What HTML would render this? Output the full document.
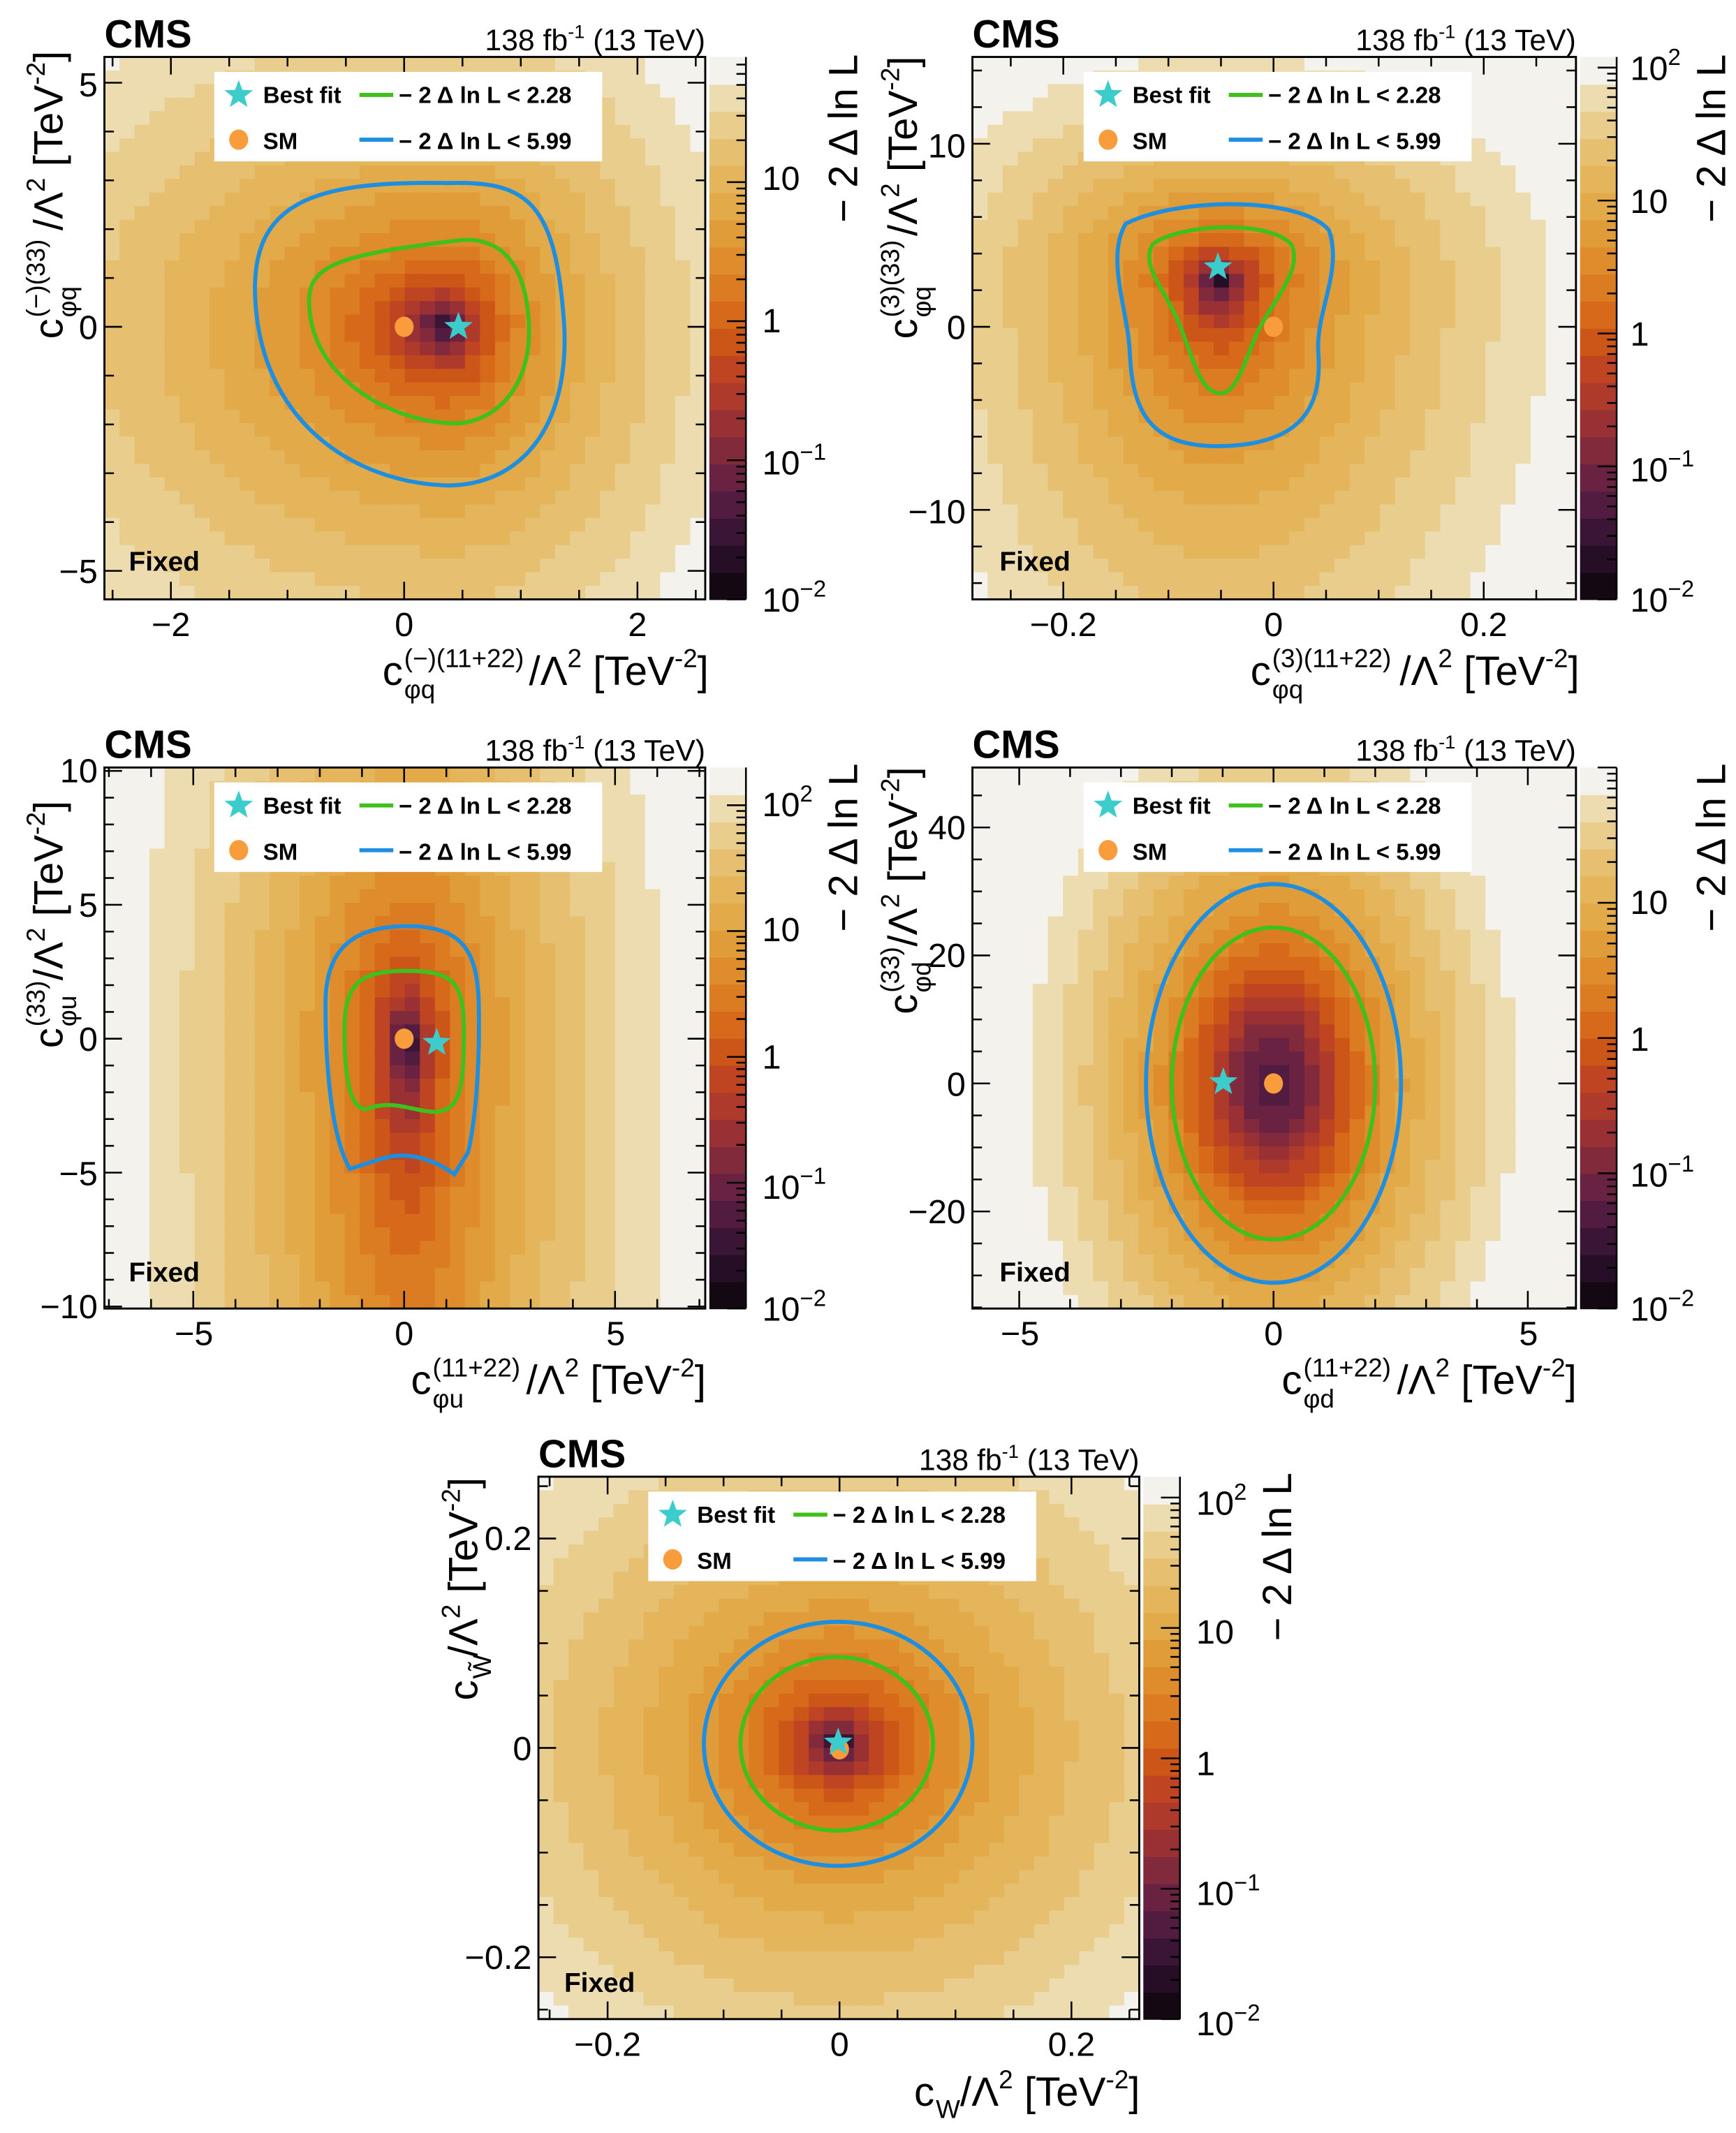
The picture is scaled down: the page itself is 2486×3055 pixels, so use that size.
<!DOCTYPE html>
<html><head><meta charset="utf-8">
<style>
html,body{margin:0;padding:0;background:#fff;}
svg{display:block;}
text{font-family:"Liberation Sans",Arial,sans-serif;fill:#000;}
.b{font-weight:bold;}
.tk{font-size:25px;}
.ax{font-size:30px;}
.lg{font-size:17px;font-weight:bold;}
</style></head>
<body>
<svg id="s" width="2486" height="3055" viewBox="0 0 1280 1573" preserveAspectRatio="none" xmlns="http://www.w3.org/2000/svg">
<defs>
<clipPath id="c0"><rect x="77" y="42" width="443" height="400"/></clipPath>
<clipPath id="c1"><rect x="717" y="42" width="445" height="400"/></clipPath>
<clipPath id="c2"><rect x="77" y="566" width="443" height="399"/></clipPath>
<clipPath id="c3"><rect x="717" y="566" width="445" height="399"/></clipPath>
<clipPath id="c4"><rect x="397" y="1089" width="443" height="400"/></clipPath>
</defs>
<g id="heat"></g>
<g id="ticks" stroke="#000" stroke-width="1.3" fill="none"></g>

<g fill="none" stroke-width="3">
<path stroke="#1e8fe0" d="M330,135 C390,133 410,150 416,240 C420,320 380,358 330,358 C260,356 190,310 188,215 C187,150 230,133 330,135 Z"/>
<path stroke="#3fc01c" d="M228,225 C226,195 250,188 340,177 C370,175 388,195 390,240 C392,290 360,315 330,312 C290,310 230,280 228,225 Z"/>
<path stroke="#1e8fe0" d="M830,165 C870,145 960,145 980,170 C990,200 970,230 972,260 C975,300 960,328 900,329 C845,330 835,300 833,260 C832,230 815,190 830,165 Z"/>
<path stroke="#3fc01c" d="M850,180 C870,165 935,162 952,180 C962,200 935,225 925,250 C915,275 910,290 900,290 C885,290 880,265 870,240 C860,215 840,195 850,180 Z"/>
<path stroke="#1e8fe0" d="M300,683 C340,683 352,700 353,740 C354,790 350,830 345,850 L335,866 C320,855 300,848 280,855 L258,862 C245,840 240,790 240,740 C240,700 260,683 300,683 Z"/>
<path stroke="#3fc01c" d="M300,716 C335,716 342,725 342,760 C342,800 340,818 322,820 C305,820 290,810 270,818 C258,818 254,795 254,760 C254,725 265,716 300,716 Z"/>
<ellipse stroke="#1e8fe0" cx="939" cy="799" rx="94" ry="147"/>
<ellipse stroke="#3fc01c" cx="939" cy="799" rx="75" ry="115"/>
<ellipse stroke="#1e8fe0" cx="618" cy="1286" rx="99" ry="90"/>
<ellipse stroke="#3fc01c" cx="617" cy="1286" rx="71" ry="64"/>
</g>
<g id="marks"></g>
<g id="legends"></g>

<g fill="none" stroke="#000" stroke-width="1.5">
<rect x="77" y="42" width="443" height="400"/>
<rect x="717" y="42" width="445" height="400"/>
<rect x="77" y="566" width="443" height="399"/>
<rect x="717" y="566" width="445" height="399"/>
<rect x="397" y="1089" width="443" height="400"/>
</g>

<text x="77" y="35" class="b" font-size="29">CMS</text>
<text x="520" y="37" font-size="22" text-anchor="end">138 fb<tspan dy="-9" font-size="14">-1</tspan><tspan dy="9"> (13 TeV)</tspan></text>
<text x="717" y="35" class="b" font-size="29">CMS</text>
<text x="1162" y="37" font-size="22" text-anchor="end">138 fb<tspan dy="-9" font-size="14">-1</tspan><tspan dy="9"> (13 TeV)</tspan></text>
<text x="77" y="559" class="b" font-size="29">CMS</text>
<text x="520" y="561" font-size="22" text-anchor="end">138 fb<tspan dy="-9" font-size="14">-1</tspan><tspan dy="9"> (13 TeV)</tspan></text>
<text x="717" y="559" class="b" font-size="29">CMS</text>
<text x="1162" y="561" font-size="22" text-anchor="end">138 fb<tspan dy="-9" font-size="14">-1</tspan><tspan dy="9"> (13 TeV)</tspan></text>
<text x="397" y="1082" class="b" font-size="29">CMS</text>
<text x="840" y="1084" font-size="22" text-anchor="end">138 fb<tspan dy="-9" font-size="14">-1</tspan><tspan dy="9"> (13 TeV)</tspan></text>

<text x="95" y="421" class="b" font-size="20">Fixed</text>
<text x="737" y="421" class="b" font-size="20">Fixed</text>
<text x="95" y="945" class="b" font-size="20">Fixed</text>
<text x="737" y="945" class="b" font-size="20">Fixed</text>
<text x="416" y="1469" class="b" font-size="20">Fixed</text>

<g class="tk">
<text x="126" y="469" text-anchor="middle">−2</text>
<text x="298" y="469" text-anchor="middle">0</text>
<text x="470" y="469" text-anchor="middle">2</text>
<text x="72" y="71" text-anchor="end">5</text>
<text x="72" y="250" text-anchor="end">0</text>
<text x="72" y="430" text-anchor="end">−5</text>
<text x="784" y="469" text-anchor="middle">−0.2</text>
<text x="939" y="469" text-anchor="middle">0</text>
<text x="1094" y="469" text-anchor="middle">0.2</text>
<text x="712" y="116" text-anchor="end">10</text>
<text x="712" y="250" text-anchor="end">0</text>
<text x="712" y="386" text-anchor="end">−10</text>
<text x="143" y="992" text-anchor="middle">−5</text>
<text x="298" y="992" text-anchor="middle">0</text>
<text x="454" y="992" text-anchor="middle">5</text>
<text x="72" y="577" text-anchor="end">10</text>
<text x="72" y="676" text-anchor="end">5</text>
<text x="72" y="775" text-anchor="end">0</text>
<text x="72" y="874" text-anchor="end">−5</text>
<text x="72" y="972" text-anchor="end">−10</text>
<text x="752" y="992" text-anchor="middle">−5</text>
<text x="939" y="992" text-anchor="middle">0</text>
<text x="1127" y="992" text-anchor="middle">5</text>
<text x="712" y="619" text-anchor="end">40</text>
<text x="712" y="713" text-anchor="end">20</text>
<text x="712" y="808" text-anchor="end">0</text>
<text x="712" y="902" text-anchor="end">−20</text>
<text x="448" y="1516" text-anchor="middle">−0.2</text>
<text x="619" y="1516" text-anchor="middle">0</text>
<text x="790" y="1516" text-anchor="middle">0.2</text>
<text x="392" y="1143" text-anchor="end">0.2</text>
<text x="392" y="1298" text-anchor="end">0</text>
<text x="392" y="1452" text-anchor="end">−0.2</text>

<text x="562" y="140">10</text>
<text x="562" y="245">1</text>
<text x="562" y="350">10<tspan dy="-11" font-size="17">−1</tspan></text>
<text x="562" y="451">10<tspan dy="-11" font-size="17">−2</tspan></text>

<text x="1202" y="59">10<tspan dy="-11" font-size="17">2</tspan></text>
<text x="1202" y="157">10</text>
<text x="1202" y="255">1</text>
<text x="1202" y="355">10<tspan dy="-11" font-size="17">−1</tspan></text>
<text x="1202" y="451">10<tspan dy="-11" font-size="17">−2</tspan></text>

<text x="562" y="602">10<tspan dy="-11" font-size="17">2</tspan></text>
<text x="562" y="694">10</text>
<text x="562" y="788">1</text>
<text x="562" y="884">10<tspan dy="-11" font-size="17">−1</tspan></text>
<text x="562" y="974">10<tspan dy="-11" font-size="17">−2</tspan></text>

<text x="1202" y="674">10</text>
<text x="1202" y="775">1</text>
<text x="1202" y="875">10<tspan dy="-11" font-size="17">−1</tspan></text>
<text x="1202" y="974">10<tspan dy="-11" font-size="17">−2</tspan></text>

<text x="882" y="1117">10<tspan dy="-11" font-size="17">2</tspan></text>
<text x="882" y="1212">10</text>
<text x="882" y="1309">1</text>
<text x="882" y="1405">10<tspan dy="-11" font-size="17">−1</tspan></text>
<text x="882" y="1501">10<tspan dy="-11" font-size="17">−2</tspan></text>
</g>

<g class="ax">
<text transform="translate(632,40) rotate(-90)" text-anchor="end">− 2 Δ ln L</text>
<text transform="translate(1272,40) rotate(-90)" text-anchor="end">− 2 Δ ln L</text>
<text transform="translate(632,563) rotate(-90)" text-anchor="end">− 2 Δ ln L</text>
<text transform="translate(1272,563) rotate(-90)" text-anchor="end">− 2 Δ ln L</text>
<text transform="translate(952,1086) rotate(-90)" text-anchor="end">− 2 Δ ln L</text>
</g>

<g class="ax">
<text x="282" y="505">c</text>
<text x="298" y="492" font-size="19">(−)(11+22)</text>
<text x="298" y="515" font-size="19">φq</text>
<text x="390" y="505">/Λ<tspan dy="-13" font-size="19">2</tspan><tspan dy="13"> [TeV</tspan><tspan dy="-13" font-size="19">-2</tspan><tspan dy="13">]</tspan></text>

<text x="922" y="505">c</text>
<text x="938" y="492" font-size="19">(3)(11+22)</text>
<text x="938" y="515" font-size="19">φq</text>
<text x="1032" y="505">/Λ<tspan dy="-13" font-size="19">2</tspan><tspan dy="13"> [TeV</tspan><tspan dy="-13" font-size="19">-2</tspan><tspan dy="13">]</tspan></text>

<text x="303" y="1028">c</text>
<text x="319" y="1015" font-size="19">(11+22)</text>
<text x="319" y="1038" font-size="19">φu</text>
<text x="388" y="1028">/Λ<tspan dy="-13" font-size="19">2</tspan><tspan dy="13"> [TeV</tspan><tspan dy="-13" font-size="19">-2</tspan><tspan dy="13">]</tspan></text>

<text x="945" y="1028">c</text>
<text x="961" y="1015" font-size="19">(11+22)</text>
<text x="961" y="1038" font-size="19">φd</text>
<text x="1030" y="1028">/Λ<tspan dy="-13" font-size="19">2</tspan><tspan dy="13"> [TeV</tspan><tspan dy="-13" font-size="19">-2</tspan><tspan dy="13">]</tspan></text>

<text x="674" y="1553">c</text>
<text x="690" y="1562" font-size="19">W</text>
<text x="708" y="1553">/Λ<tspan dy="-13" font-size="19">2</tspan><tspan dy="13"> [TeV</tspan><tspan dy="-13" font-size="19">-2</tspan><tspan dy="13">]</tspan></text>
</g>

<g class="ax">
<g transform="translate(46,250) rotate(-90)">
<text x="0" y="0">c</text><text x="16" y="-13" font-size="19">(−)(33)</text><text x="16" y="10" font-size="19">φq</text>
<text x="80" y="0">/Λ<tspan dy="-13" font-size="19">2</tspan><tspan dy="13"> [TeV</tspan><tspan dy="-13" font-size="19">-2</tspan><tspan dy="13">]</tspan></text>
</g>
<g transform="translate(676,250) rotate(-90)">
<text x="0" y="0">c</text><text x="16" y="-13" font-size="19">(3)(33)</text><text x="16" y="10" font-size="19">φq</text>
<text x="76" y="0">/Λ<tspan dy="-13" font-size="19">2</tspan><tspan dy="13"> [TeV</tspan><tspan dy="-13" font-size="19">-2</tspan><tspan dy="13">]</tspan></text>
</g>
<g transform="translate(46,773) rotate(-90)">
<text x="0" y="0">c</text><text x="16" y="-13" font-size="19">(33)</text><text x="16" y="10" font-size="19">φu</text>
<text x="50" y="0">/Λ<tspan dy="-13" font-size="19">2</tspan><tspan dy="13"> [TeV</tspan><tspan dy="-13" font-size="19">-2</tspan><tspan dy="13">]</tspan></text>
</g>
<g transform="translate(676,748) rotate(-90)">
<text x="0" y="0">c</text><text x="16" y="-13" font-size="19">(33)</text><text x="16" y="10" font-size="19">φd</text>
<text x="50" y="0">/Λ<tspan dy="-13" font-size="19">2</tspan><tspan dy="13"> [TeV</tspan><tspan dy="-13" font-size="19">-2</tspan><tspan dy="13">]</tspan></text>
</g>
<g transform="translate(352,1254) rotate(-90)">
<text x="0" y="0">c</text><text x="16" y="10" font-size="19">W̃</text>
<text x="32" y="0">/Λ<tspan dy="-13" font-size="19">2</tspan><tspan dy="13"> [TeV</tspan><tspan dy="-13" font-size="19">-2</tspan><tspan dy="13">]</tspan></text>
</g>
</g>

<g class="lg">
<text x="194" y="76">Best fit</text><text x="294" y="76">− 2  Δ ln L &lt; 2.28</text>
<text x="194" y="110">SM</text><text x="294" y="110">− 2  Δ ln L &lt; 5.99</text>
<text x="835" y="76">Best fit</text><text x="935" y="76">− 2  Δ ln L &lt; 2.28</text>
<text x="835" y="110">SM</text><text x="935" y="110">− 2  Δ ln L &lt; 5.99</text>
<text x="194" y="600">Best fit</text><text x="294" y="600">− 2  Δ ln L &lt; 2.28</text>
<text x="194" y="634">SM</text><text x="294" y="634">− 2  Δ ln L &lt; 5.99</text>
<text x="835" y="600">Best fit</text><text x="935" y="600">− 2  Δ ln L &lt; 2.28</text>
<text x="835" y="634">SM</text><text x="935" y="634">− 2  Δ ln L &lt; 5.99</text>
<text x="514" y="1123">Best fit</text><text x="614" y="1123">− 2  Δ ln L &lt; 2.28</text>
<text x="514" y="1157">SM</text><text x="614" y="1157">− 2  Δ ln L &lt; 5.99</text>
</g>
</svg>
<script>
(function(){
var NS="http://www.w3.org/2000/svg";
function el(t,a,p){var e=document.createElementNS(NS,t);for(var k in a)e.setAttribute(k,a[k]);p.appendChild(e);return e;}
var pal=['#140812','#260e26','#3a1536','#521c40','#6a2242','#812a3c','#983034','#ae3a2c','#bf4522','#cc5518','#d6691a','#db7c22','#de8c2c','#e09c38','#e2aa48','#e4b55a','#e6c070','#e9cd8c','#ecdcb0','#f4f2ec'];
var P=[
{x0:77,x1:520,y0:42,y1:442,cx:330,cy:241,axl:150,axr:86,ayu:106,ayd:117,top:1.9,p:1,k:0.08,f0:0.02},
{x0:717,x1:1162,y0:42,y1:442,cx:898,cy:205,axl:78,axr:86,ayu:58,ayd:125,top:2.08,p:1,k:0.08,f0:0.01},
{x0:77,x1:520,y0:566,y1:965,cx:300,cy:766,axl:58,axr:56,ayu:130,ayd:260,top:2.3,p:1,k:0.08,f0:0.01},
{x0:717,x1:1162,y0:566,y1:965,cx:939,cy:799,axl:94,axr:94,ayu:147,ayd:147,top:2.0,p:1.8,k:0.02,f0:0.06},
{x0:397,x1:840,y0:1089,y1:1489,cx:618,cy:1286,axl:99,axr:99,ayu:90,ayd:90,top:2.16,p:1,k:0.08,f0:0.01}
];
var heat=document.getElementById('heat');
P.forEach(function(q,k){
  var g=el('g',{'clip-path':'url(#c'+k+')'},heat);
  var n=40,w=(q.x1-q.x0)/n,h=(q.y1-q.y0)/n;
  for(var i=0;i<n;i++)for(var j=0;j<n;j++){
    var x=q.x0+(i+0.5)*w,y=q.y0+(j+0.5)*h;
    var dx=x-q.cx,dy=y-q.cy;
    var ax=dx<0?q.axl:q.axr, ay=dy<0?q.ayu:q.ayd;
    var d2=(dx/ax)*(dx/ax)+(dy/ay)*(dy/ay);
    var f=q.f0+5.99*Math.pow(d2,q.p)*(1+q.k*Math.max(0,d2-1));
    var t=(Math.log10(Math.max(f,1e-6))+2)/(q.top+2);
    var b=Math.floor(t*20); if(b<0)b=0; if(b>19)b=19;
    el('rect',{x:(q.x0+i*w).toFixed(2),y:(q.y0+j*h).toFixed(2),width:(w+0.6).toFixed(2),height:(h+0.6).toFixed(2),fill:pal[b]},g);
  }
  var cx=q.x1+3,bh=(q.y1-q.y0)/20;
  for(var b2=0;b2<20;b2++){
    el('rect',{x:cx,y:(q.y1-(b2+1)*bh).toFixed(2),width:27,height:(bh+0.5).toFixed(2),fill:pal[b2]},heat);
  }
});
var T=document.getElementById('ticks');
function line(x1,y1,x2,y2){el('line',{x1:x1,y1:y1,x2:x2,y2:y2},T);}
var A=[
 {x0:77,x1:520,y0:42,y1:442, xr:298,xs:86,xmaj:2,xmin:0.5, yr:241,ys:-36,ymaj:5,ymin:1},
 {x0:717,x1:1162,y0:42,y1:442, xr:939,xs:775,xmaj:0.2,xmin:0.05, yr:241,ys:-13.5,ymaj:10,ymin:2},
 {x0:77,x1:520,y0:566,y1:965, xr:298,xs:31.1,xmaj:5,xmin:1, yr:766,ys:-19.75,ymaj:5,ymin:1},
 {x0:717,x1:1162,y0:566,y1:965, xr:939,xs:37.5,xmaj:5,xmin:1, yr:799,ys:-4.72,ymaj:20,ymin:5},
 {x0:397,x1:840,y0:1089,y1:1489, xr:619,xs:855,xmaj:0.2,xmin:0.05, yr:1289,ys:-772,ymaj:0.2,ymin:0.05}
];
A.forEach(function(a){
  var st=a.xmin*a.xs;
  for(var m=-60;m<=60;m++){
    var x=a.xr+m*st; if(x<a.x0+0.5||x>a.x1-0.5)continue;
    var r=Math.round(m*a.xmin/a.xmaj*1e6)/1e6, maj=Math.abs(r-Math.round(r))<1e-6;
    var L=maj?13:7;
    line(x,a.y1,x,a.y1-L); line(x,a.y0,x,a.y0+L);
  }
  var sy=a.ymin*a.ys;
  for(var m2=-60;m2<=60;m2++){
    var y=a.yr+m2*sy; if(y<a.y0+0.5||y>a.y1-0.5)continue;
    var r2=Math.round(m2*a.ymin/a.ymaj*1e6)/1e6, maj2=Math.abs(r2-Math.round(r2))<1e-6;
    var L2=maj2?13:7;
    line(a.x0,y,a.x0+L2,y); line(a.x1,y,a.x1-L2,y);
  }
});
P.forEach(function(q){
  var xr=q.x1+30, span=q.top+2, H=q.y1-q.y0;
  line(xr,q.y0,xr,q.y1);
  for(var e=-2;e<=3;e++)for(var s=1;s<10;s++){
    var lv=e+Math.log10(s); if(lv>q.top+1e-9)continue;
    var y=q.y1-(lv+2)/span*H;
    line(xr,y,xr-(s==1?14:7),y);
  }
});
var M=document.getElementById('marks');
function star(cx,cy,R,par){var pts=[];for(var i=0;i<10;i++){var r=i%2?R*0.42:R,a=-Math.PI/2+i*Math.PI/5;pts.push((cx+r*Math.cos(a)).toFixed(1)+','+(cy+r*Math.sin(a)).toFixed(1));}el('polygon',{points:pts.join(' '),fill:'#3ccccc'},par);}
function sm(cx,cy,par){el('ellipse',{cx:cx,cy:cy,rx:7,ry:7.5,fill:'#f99c3c'},par);}
sm(298,241,M);star(338,241,11,M);
sm(939,241,M);star(898,197,11,M);
sm(298,766,M);star(322,769,11,M);
sm(939,799,M);star(902,798,11,M);
sm(619,1290,M);star(618,1285,11,M);
var Lg=document.getElementById('legends');
[[158,53],[799,53],[158,577],[799,577],[478,1100]].forEach(function(p){
  var x=p[0],y=p[1];
  el('rect',{x:x,y:y,width:286,height:66,fill:'#fff'},Lg);
  star(x+18,y+17,11,Lg); sm(x+18,y+50,Lg);
  el('line',{x1:x+107,y1:y+17,x2:x+132,y2:y+17,stroke:'#3fc01c','stroke-width':3},Lg);
  el('line',{x1:x+107,y1:y+50,x2:x+132,y2:y+50,stroke:'#1e8fe0','stroke-width':3},Lg);
});
})();
</script>
</body></html>
